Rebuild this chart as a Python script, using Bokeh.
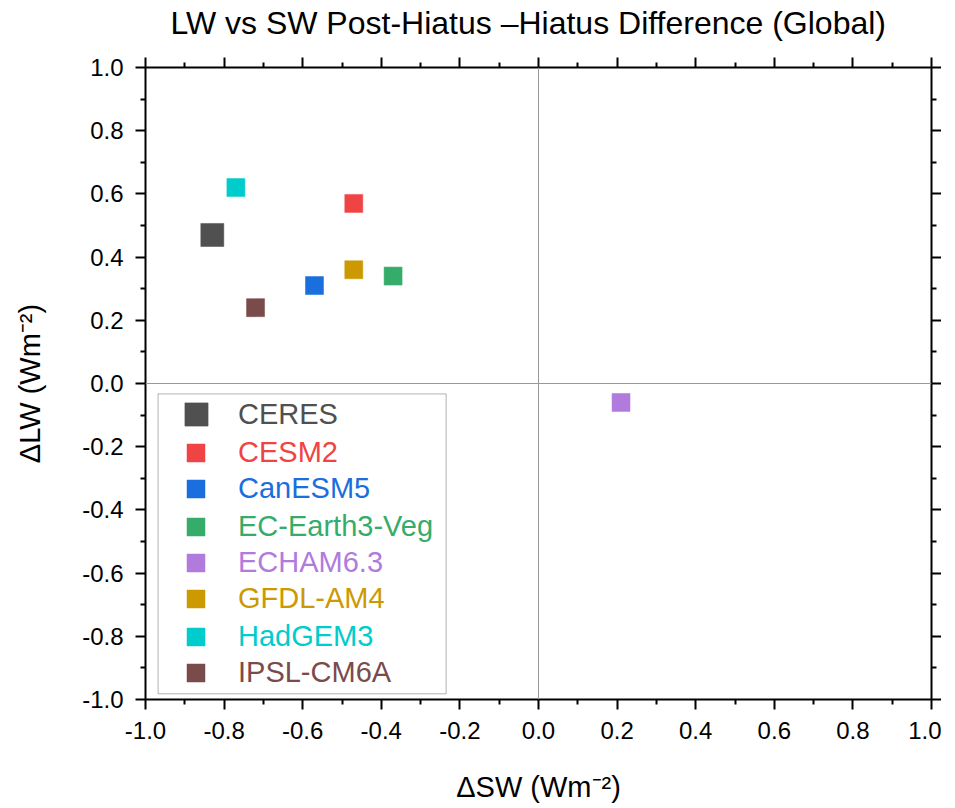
from bokeh.plotting import figure
from bokeh.models import (Range1d, LinearAxis, FixedTicker, NumeralTickFormatter,
                          Span, BoxAnnotation, Legend, LegendItem, CustomLabelingPolicy)
from bokeh.embed import file_html
from bokeh.resources import INLINE

# ---- data ----
models = ["CERES", "CESM2", "CanESM5", "EC-Earth3-Veg", "ECHAM6.3", "GFDL-AM4", "HadGEM3", "IPSL-CM6A"]
d_sw = [-0.83, -0.47, -0.57, -0.37, 0.21, -0.47, -0.77, -0.72]
d_lw = [0.47, 0.57, 0.31, 0.34, -0.06, 0.36, 0.62, 0.24]
colors = ["#505050", "#F04444", "#1A6EDD", "#36AC6A", "#B07BDD", "#CC9900", "#00CCCC", "#7A4B4B"]
marker_sizes = [23, 18, 18, 18, 18, 18, 18, 18]
major_ticks = [-1.0, -0.8, -0.6, -0.4, -0.2, 0.0, 0.2, 0.4, 0.6, 0.8, 1.0]
minor_ticks = [-0.9, -0.7, -0.5, -0.3, -0.1, 0.1, 0.3, 0.5, 0.7, 0.9]

FONT = "Liberation Sans"

p = figure(frame_width=786, frame_height=632, output_backend="svg", toolbar_location=None,
           x_range=Range1d(-1, 1), y_range=Range1d(-1, 1),
           min_border_left=145, min_border_right=0, min_border_top=81, min_border_bottom=100,
           margin=(-14, 0, 0, 0),
           x_axis_label="\u0394SW (Wm\u207b\u00b2)", y_axis_label="\u0394LW (Wm\u207b\u00b2)",
           title="LW vs SW Post-Hiatus \u2013Hiatus Difference (Global)")
p.grid.visible = False
p.outline_line_color = None
p.background_fill_color = "white"
p.border_fill_color = "white"

p.title.text_font = FONT
p.title.text_font_size = "32px"
p.title.text_font_style = "normal"
p.title.align = "left"
p.title.offset = 25
p.title.text_color = "black"
p.title.standoff = 33

ticker = FixedTicker(ticks=major_ticks, minor_ticks=minor_ticks)

hide_labels = CustomLabelingPolicy(code="""
try {
  for (let i = 0; i < indices.size; i++) indices.unset(i)
} catch (e) {}
return indices
""")

def style_axis(ax, labels=True, label_standoff=25):
    ax.ticker = ticker
    ax.axis_line_width = 2
    ax.axis_line_color = "black"
    ax.major_tick_line_width = 2
    ax.minor_tick_line_width = 2
    ax.major_tick_line_color = "black"
    ax.minor_tick_line_color = "black"
    ax.major_tick_out = 10
    ax.major_tick_in = 0
    ax.minor_tick_out = 5
    ax.minor_tick_in = 0
    if labels:
        ax.formatter = NumeralTickFormatter(format="0.0")
        ax.major_label_text_font = FONT
        ax.major_label_text_font_size = "24px"
        ax.major_label_text_color = "black"
        ax.major_label_standoff = 12
        ax.axis_label_text_font = FONT
        ax.axis_label_text_font_size = "29px"
        ax.axis_label_text_font_style = "normal"
        ax.axis_label_text_color = "black"
        ax.axis_label_standoff = label_standoff
    else:
        ax.major_label_text_font_size = "0px"
        ax.major_label_standoff = 0
        ax.major_label_policy = hide_labels

style_axis(p.xaxis[0], label_standoff=29)
style_axis(p.yaxis[0], label_standoff=33)
top_ax = LinearAxis()
right_ax = LinearAxis()
style_axis(top_ax, labels=False)
style_axis(right_ax, labels=False)
p.add_layout(top_ax, "above")
p.add_layout(right_ax, "right")

p.add_layout(Span(location=0, dimension="height", line_color="#999999", line_width=1))
p.add_layout(Span(location=0, dimension="width", line_color="#999999", line_width=1))

renderers = []
for i in range(len(models)):
    r = p.scatter(x=[d_sw[i]], y=[d_lw[i]], marker="square", size=marker_sizes[i],
                  fill_color=colors[i], line_color=colors[i], line_width=0.5)
    renderers.append(r)

# legend frame
p.add_layout(BoxAnnotation(left=-0.968, right=-0.235, bottom=-0.982, top=-0.033,
                           fill_alpha=0, line_color="black", line_width=1))

# one legend per entry so each label keeps its series colour
item_centers = [285, 246, 211, 173, 137, 100, 63, 26]
for i in range(len(models)):
    g = int(round(marker_sizes[i] / 0.4))
    lx = int(round(50.5 - g / 2))
    lg = Legend(items=[LegendItem(label=models[i], renderers=[renderers[i]])],
                location=(lx, int(round(item_centers[i] - g / 2))),
                glyph_width=g, glyph_height=g, label_standoff=int(93 - lx - g),
                padding=0, margin=0, spacing=0,
                border_line_color=None, background_fill_alpha=0,
                label_text_font=FONT, label_text_font_size="29px",
                label_text_color=colors[i])
    p.add_layout(lg, "center")

open("out.html", "w").write(file_html(p, INLINE))
